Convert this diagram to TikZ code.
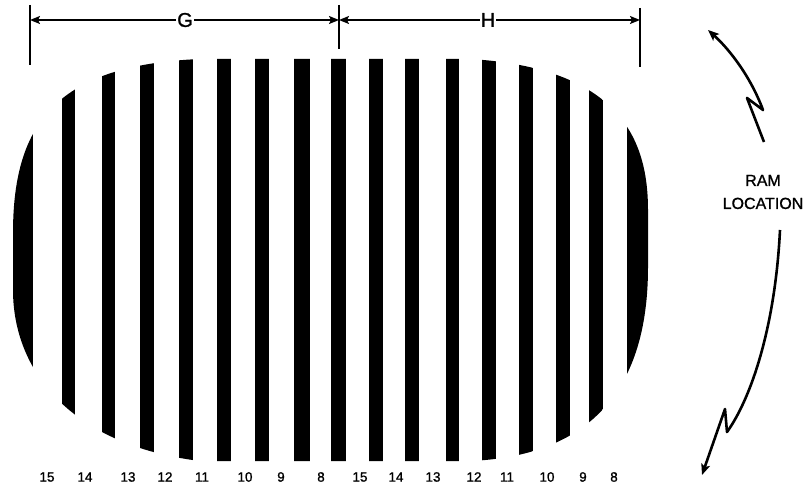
\documentclass[tikz,border=0pt]{standalone}
\usepackage{fontspec}
\setmainfont{Liberation Sans}
\newfontfamily\scanfont{Liberation Sans}[FakeBold=1.2]
\usetikzlibrary{arrows.meta}

\begin{document}
\begin{tikzpicture}[
  x=1pt, y=-1pt,
  bar/.style={fill=black},
  tick/.style={line width=1.8pt},
  dim/.style={-{Stealth[length=10pt,width=8pt,inset=2pt]}, line width=1.5pt},
  curl/.style={-{Stealth[length=11pt,width=9pt,inset=2.5pt]}, line width=2.6pt, line join=round},
  num/.style={font=\scanfont\fontsize{13.5}{15}\selectfont, inner sep=0pt},
  letter/.style={font=\scanfont\fontsize{20}{22}\selectfont, inner sep=1pt},
  caption/.style={align=center, font=\scanfont\fontsize{16}{23}\selectfont},
]
\useasboundingbox (0,0) rectangle (806,486);

% === Screen with bars ===
\begin{scope}
  \clip (13,233) .. controls (13,120) and (60,65) .. (200,59)
    -- (470,59) .. controls (620,68) and (648,140) .. (648,210)
    -- (648,267) .. controls (648,360) and (615,455) .. (470,461)
    -- (200,461) .. controls (70,445) and (13,370) .. (13,290) -- cycle;
  \foreach \l/\r in {0/33, 62/75, 102/115, 140/154, 179/193, 217/231, 255/269,
                     294/310, 331/346, 369/383, 405/419, 446/459, 482/496,
                     519/533, 556/570, 589/603, 627/700}
    \fill[bar] (\l,0) rectangle (\r,486);
\end{scope}

% === Bit numbers ===
\foreach \x/\n [count=\i] in {47/15, 85/14, 128/13, 165/12, 202/11, 245/10, 281/9, 321/8,
                              360/15, 396/14, 433/13, 474/12, 507/11, 547/10, 583/9, 614/8}
  \node[num] (bit\i) at (\x,477) {\n};

% === Dimension lines ===
\coordinate (lt) at (30,5);   \coordinate (lb) at (30,65);
\coordinate (mt) at (339,5);  \coordinate (mb) at (339,49);
\coordinate (rt) at (640,8);  \coordinate (rb) at (640,67);
\coordinate (gl) at (30,20);  \coordinate (gm) at (339,20);
\coordinate (gr) at (640,20);
\draw[tick] (lt) -- (lb);
\draw[tick] (mt) -- (mb);
\draw[tick] (rt) -- (rb);

\node[letter] (G) at (185,20) {G};
\node[letter] (H) at (488,20) {H};
\draw[dim] (G) -- (gl);
\draw[dim] (G) -- (gm);
\draw[dim] (H) -- (gm);
\draw[dim] (H) -- (gr);

% === RAM location ===
\node[caption] (ram) at (763,192) {RAM\\LOCATION};

\coordinate (up0) at (764,142);
\coordinate (up1) at (747,98);
\coordinate (up2) at (763,110);
\coordinate (up3) at (708,30);
\draw[curl] (up0) -- (up1) -- (up2) .. controls (750,75) and (728,48) .. (up3);

\coordinate (dn0) at (780,230);
\coordinate (dn1) at (727,432);
\coordinate (dn2) at (725,409);
\coordinate (dn3) at (702,475);
\draw[curl] (dn0) .. controls (775,330) and (750,400) .. (dn1) -- (dn2) -- (dn3);

\end{tikzpicture}
\end{document}
